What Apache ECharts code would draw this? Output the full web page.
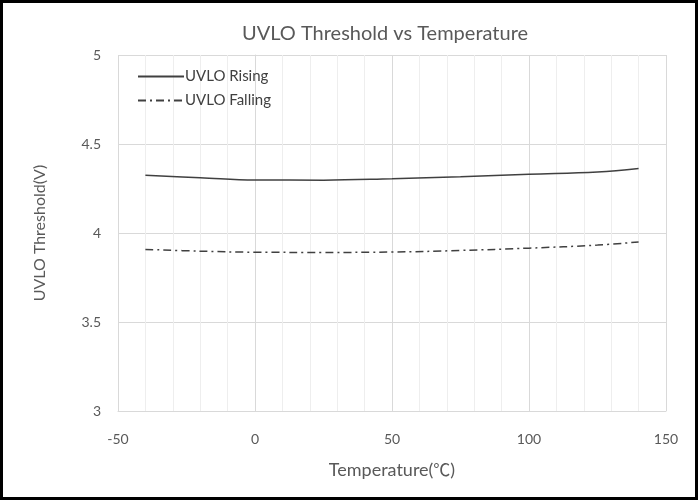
<!DOCTYPE html>
<html>
<head>
<meta charset="utf-8">
<style>
  html, body { margin: 0; padding: 0; background: #ffffff; }
  #chart { width: 699px; height: 501px; }
</style>
<script src="https://cdn.jsdelivr.net/npm/echarts@6/dist/echarts.min.js"></script>
</head>
<body>
<div id="chart"></div>
<script>
// Measured UVLO thresholds over junction temperature
const temperatures = [-40, -20, 0, 25, 50, 75, 100, 125, 140];
const uvloRising   = [4.324, 4.311, 4.298, 4.297, 4.305, 4.316, 4.330, 4.343, 4.363];
const uvloFalling  = [3.908, 3.898, 3.892, 3.891, 3.893, 3.902, 3.915, 3.932, 3.950];
const seriesNames  = ['UVLO Rising', 'UVLO Falling'];

const FONT = 'Lato, "Open Sans", sans-serif';
const CJK = '"Noto Sans CJK SC", sans-serif';
const TEXT = '#595959';

const chart = echarts.init(document.getElementById('chart'), null, { renderer: 'canvas' });

const pairs = (ys) => temperatures.map((t, i) => [t, ys[i]]);

chart.setOption({
  animation: false,
  backgroundColor: '#ffffff',
  textStyle: { fontFamily: FONT },
  title: {
    text: 'UVLO Threshold vs Temperature',
    left: 380, top: 19, textAlign: 'center',
    textStyle: { fontFamily: FONT, fontSize: 20, fontWeight: 'normal', color: TEXT }
  },
  legend: {
    orient: 'vertical',
    left: 132, top: 64,
    itemWidth: 46, itemHeight: 12, itemGap: 9,
    itemStyle: { opacity: 0 },
    textStyle: { fontFamily: FONT, fontSize: 15, color: '#404040', padding: [0, 0, 0, -4] },
    data: seriesNames
  },
  grid: { left: 118, right: 33, top: 55, bottom: 90, containLabel: false },
  xAxis: {
    type: 'value', min: -50, max: 150, interval: 50,
    name: '{a|Temperature(}{b|℃}{a|)}', nameLocation: 'middle', nameGap: 50,
    nameTextStyle: {
      color: TEXT,
      rich: {
        a: { fontFamily: FONT, fontSize: 18, color: TEXT },
        b: { fontFamily: CJK, fontSize: 17, color: TEXT }
      }
    },
    axisLine: { show: true, lineStyle: { color: '#d9d9d9', width: 1 } },
    axisTick: { show: false },
    axisLabel: { color: TEXT, fontSize: 14, fontFamily: FONT, margin: 21 },
    splitLine: { show: true, lineStyle: { color: '#d9d9d9', width: 1 } },
    minorTick: { show: false, splitNumber: 5 },
    minorSplitLine: { show: true, lineStyle: { color: '#eeeeee', width: 1 } }
  },
  yAxis: {
    type: 'value', min: 3, max: 5, interval: 0.5,
    name: 'UVLO Threshold(V)', nameLocation: 'middle', nameGap: 70, nameRotate: 90,
    nameTextStyle: { fontFamily: FONT, fontSize: 16, color: TEXT },
    axisLine: { show: true, lineStyle: { color: '#d9d9d9', width: 1 } },
    axisTick: { show: false },
    axisLabel: { color: TEXT, fontSize: 14, fontFamily: FONT, margin: 17 },
    splitLine: { show: true, lineStyle: { color: '#d9d9d9', width: 1 } }
  },
  series: [
    {
      name: seriesNames[0], type: 'line', smooth: 0.4, showSymbol: false, symbol: 'none',
      data: pairs(uvloRising),
      lineStyle: { color: '#404040', width: 1.5, type: 'solid' },
      itemStyle: { color: '#404040' }
    },
    {
      name: seriesNames[1], type: 'line', smooth: 0.4, showSymbol: false, symbol: 'none',
      data: pairs(uvloFalling),
      lineStyle: { color: '#404040', width: 1.5, type: [8, 4, 2, 4] },
      itemStyle: { color: '#404040' }
    }
  ],
  graphic: [
    {
      type: 'rect', silent: true, z: 100,
      shape: { x: 1.5, y: 1.5, width: 695, height: 497 },
      style: { fill: 'none', stroke: '#000000', lineWidth: 3 }
    }
  ]
});
</script>
</body>
</html>
